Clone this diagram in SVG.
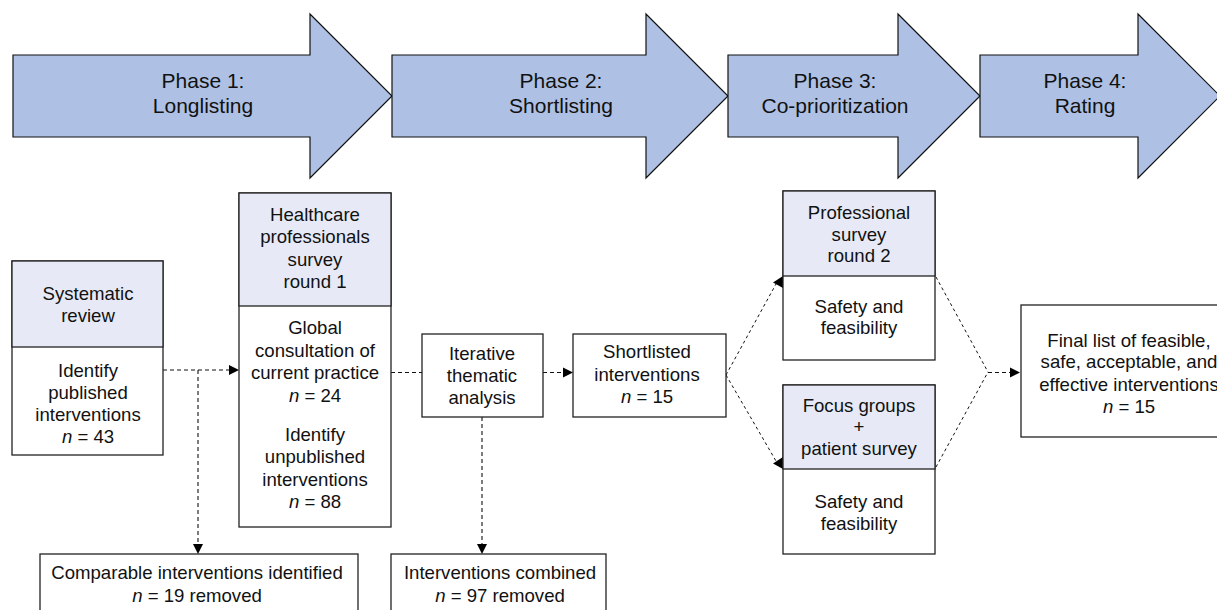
<svg xmlns="http://www.w3.org/2000/svg" width="1217" height="610" viewBox="0 0 1217 610">
<style>
.ph{fill:#AEC1E4;stroke:#111;stroke-width:1.2}
.pt{font-family:"Liberation Sans",Arial,sans-serif;font-size:21px;fill:#111;text-anchor:middle}
.bx{fill:#fff;stroke:#222;stroke-width:1.3}
.hd{fill:#E7EAF6;stroke:#222;stroke-width:1.3}
.t{font-family:"Liberation Sans",Arial,sans-serif;font-size:18.6px;fill:#111;text-anchor:middle}
.i{font-style:italic}
.c{fill:none;stroke:#111;stroke-width:1.1;stroke-dasharray:4 3}
.d{fill:none;stroke:#111;stroke-width:1;stroke-dasharray:3 3}
.ah{fill:#000}
</style>
<rect width="1217" height="610" fill="#fff"/>
<g id="phase1">
<polygon class="ph" points="13,55 310,55 310,14 392,96 310,178 310,137 13,137"/>
<text class="pt" x="203" y="88">Phase 1:</text>
<text class="pt" x="203" y="113">Longlisting</text>
</g>
<g id="phase2">
<polygon class="ph" points="392,55 646,55 646,14 728,96 646,178 646,137 392,137"/>
<text class="pt" x="561" y="88">Phase 2:</text>
<text class="pt" x="561" y="113">Shortlisting</text>
</g>
<g id="phase3">
<polygon class="ph" points="728,55 898,55 898,14 980,96 898,178 898,137 728,137"/>
<text class="pt" x="835" y="88">Phase 3:</text>
<text class="pt" x="835" y="113">Co-prioritization</text>
</g>
<g id="phase4">
<polygon class="ph" points="980,55 1138,55 1138,14 1220,96 1138,178 1138,137 980,137"/>
<text class="pt" x="1085" y="88">Phase 4:</text>
<text class="pt" x="1085" y="113">Rating</text>
</g>
<g id="connectors">
<line class="c" x1="163" y1="370" x2="229" y2="370"/>
<polygon class="ah" points="229,365 239,370 229,375"/>
<line class="c" x1="198" y1="370" x2="198" y2="544"/>
<polygon class="ah" points="193,544 203,544 198,554"/>
<line class="c" x1="391" y1="372.5" x2="422" y2="372.5"/>
<line class="c" x1="543" y1="372.5" x2="563" y2="372.5"/>
<polygon class="ah" points="563,367.5 573,372.5 563,377.5"/>
<line class="c" x1="482" y1="417" x2="482" y2="544"/>
<polygon class="ah" points="477,544 487,544 482,554"/>
<line class="d" x1="726" y1="375" x2="776" y2="284"/>
<polygon class="ah" points="783,276 783,288 773,282.5"/>
<line class="d" x1="726" y1="375" x2="776" y2="461"/>
<polygon class="ah" points="783,457 783,469 773,463.5"/>
<line class="d" x1="936" y1="277" x2="988" y2="372"/>
<line class="d" x1="936" y1="467" x2="988" y2="372"/>
<line class="c" x1="988" y1="372.5" x2="1010" y2="372.5"/>
<polygon class="ah" points="1010,367.5 1020,372.5 1010,377.5"/>
</g>
<g id="systematic-review">
<rect class="bx" x="12" y="261" width="151" height="194"/>
<rect class="hd" x="12" y="261" width="151" height="86"/>
<text class="t" x="88" y="300">Systematic</text>
<text class="t" x="88" y="322">review</text>
<text class="t" x="88" y="377">Identify</text>
<text class="t" x="88" y="399">published</text>
<text class="t" x="88" y="421">interventions</text>
<text class="t" x="88" y="443"><tspan class="i">n</tspan> = 43</text>
</g>
<g id="healthcare-survey">
<rect class="bx" x="239" y="193" width="152" height="334"/>
<rect class="hd" x="239" y="193" width="152" height="113"/>
<text class="t" x="315" y="221">Healthcare</text>
<text class="t" x="315" y="243">professionals</text>
<text class="t" x="315" y="266">survey</text>
<text class="t" x="315" y="288">round 1</text>
<text class="t" x="315" y="334">Global</text>
<text class="t" x="315" y="357">consultation of</text>
<text class="t" x="315" y="379">current practice</text>
<text class="t" x="315" y="402"><tspan class="i">n</tspan> = 24</text>
<text class="t" x="315" y="441">Identify</text>
<text class="t" x="315" y="463">unpublished</text>
<text class="t" x="315" y="486">interventions</text>
<text class="t" x="315" y="508"><tspan class="i">n</tspan> = 88</text>
</g>
<g id="comparable">
<rect class="bx" x="40" y="554" width="318" height="70"/>
<text class="t" x="197" y="579">Comparable interventions identified</text>
<text class="t" x="197" y="602"><tspan class="i">n</tspan> = 19 removed</text>
</g>
<g id="iterative">
<rect class="bx" x="422" y="334" width="121" height="83"/>
<text class="t" x="482" y="360">Iterative</text>
<text class="t" x="482" y="382">thematic</text>
<text class="t" x="482" y="404">analysis</text>
</g>
<g id="combined">
<rect class="bx" x="391" y="554" width="215" height="70"/>
<text class="t" x="500" y="579">Interventions combined</text>
<text class="t" x="500" y="602"><tspan class="i">n</tspan> = 97 removed</text>
</g>
<g id="shortlisted">
<rect class="bx" x="573" y="334" width="153" height="83"/>
<text class="t" x="647" y="358">Shortlisted</text>
<text class="t" x="647" y="381">interventions</text>
<text class="t" x="647" y="403"><tspan class="i">n</tspan> = 15</text>
</g>
<g id="professional-survey">
<rect class="bx" x="783" y="191" width="152" height="169"/>
<rect class="hd" x="783" y="191" width="152" height="85"/>
<text class="t" x="859" y="219">Professional</text>
<text class="t" x="859" y="241">survey</text>
<text class="t" x="859" y="262">round 2</text>
<text class="t" x="859" y="313">Safety and</text>
<text class="t" x="859" y="334">feasibility</text>
</g>
<g id="focus-groups">
<rect class="bx" x="783" y="385" width="152" height="169"/>
<rect class="hd" x="783" y="385" width="152" height="84"/>
<text class="t" x="859" y="412">Focus groups</text>
<text class="t" x="859" y="433">+</text>
<text class="t" x="859" y="455">patient survey</text>
<text class="t" x="859" y="508">Safety and</text>
<text class="t" x="859" y="530">feasibility</text>
</g>
<g id="final-list">
<rect class="bx" x="1021" y="305" width="220" height="132"/>
<text class="t" x="1129" y="347">Final list of feasible,</text>
<text class="t" x="1129" y="368">safe, acceptable, and</text>
<text class="t" x="1129" y="391">effective interventions</text>
<text class="t" x="1129" y="413"><tspan class="i">n</tspan> = 15</text>
</g>
</svg>
